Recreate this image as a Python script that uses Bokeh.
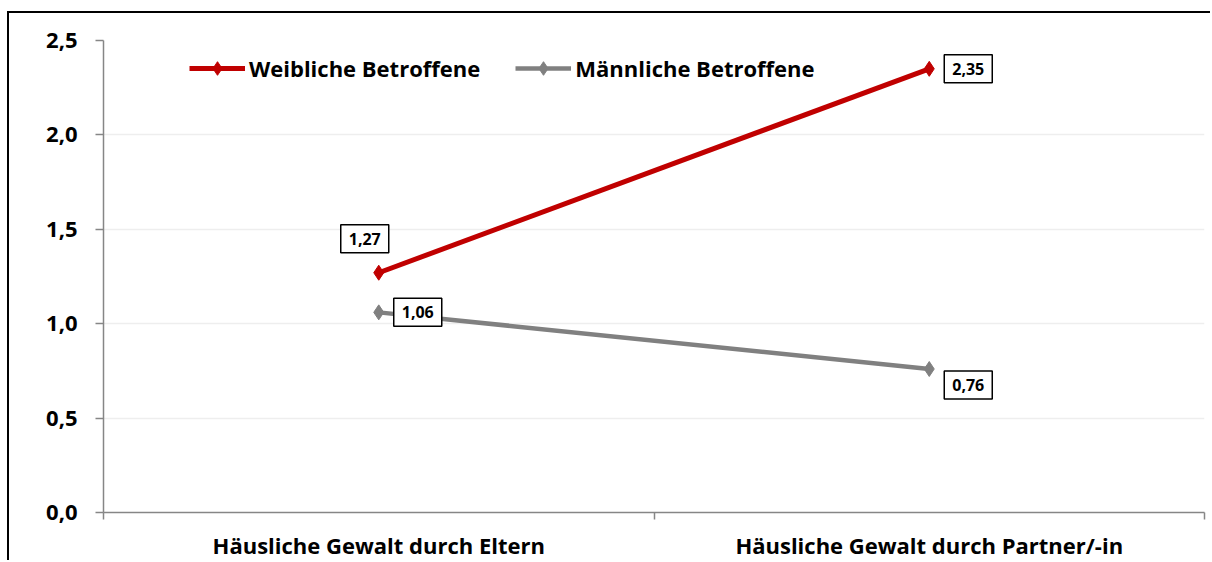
from bokeh.plotting import figure
from bokeh.models import (ColumnDataSource, FixedTicker, CustomJSTickFormatter, Label,
                          Legend, LegendItem, Range1d)
from bokeh.embed import file_html
from bokeh.resources import INLINE

categories = ["Häusliche Gewalt durch Eltern", "Häusliche Gewalt durch Partner/-in"]
weiblich = [1.27, 2.35]
maennlich = [1.06, 0.76]
series_names = ["Weibliche Betroffene", "Männliche Betroffene"]
y_ticks = [0.0, 0.5, 1.0, 1.5, 2.0, 2.5]

FONT = "Open Sans"
RED = "#C00000"
GRAY = "#808080"
AXIS = "#868686"

xpos = [i + 0.5 for i in range(len(categories))]

p = figure(width=1203, height=549, output_backend="svg", toolbar_location=None,
           x_range=Range1d(0, len(categories)), y_range=Range1d(0, 2.5),
           min_border_left=94, min_border_right=8, min_border_top=27, min_border_bottom=50)
p.margin = (11, 0, 0, 7)
p.styles = {"border-left": "2px solid black", "border-top": "2px solid black"}
p.outline_line_color = None
p.background_fill_color = "white"
p.border_fill_color = "white"

src_w = ColumnDataSource(dict(x=xpos, y=weiblich))
src_m = ColumnDataSource(dict(x=xpos, y=maennlich))

lw = p.line("x", "y", source=src_w, line_color=RED, line_width=5)
sw = p.scatter("x", "y", source=src_w, marker="diamond", size=15, fill_color=RED, line_color=RED)
lm = p.line("x", "y", source=src_m, line_color=GRAY, line_width=4.5)
sm = p.scatter("x", "y", source=src_m, marker="diamond", size=15, fill_color=GRAY, line_color=GRAY)

# axes
p.xgrid.grid_line_color = None
p.ygrid.grid_line_color = "#eeeeee"
p.ygrid.grid_line_width = 1.5
p.ygrid.ticker = FixedTicker(ticks=y_ticks)

p.yaxis.ticker = FixedTicker(ticks=y_ticks)
p.yaxis.formatter = CustomJSTickFormatter(code="return tick.toFixed(1).replace('.', ',');")
p.yaxis.axis_line_color = AXIS
p.yaxis.axis_line_width = 1.5
p.yaxis.major_tick_line_color = AXIS
p.yaxis.major_tick_line_width = 1.5
p.yaxis.major_tick_out = 8
p.yaxis.major_tick_in = 0
p.yaxis.minor_tick_line_color = None
p.yaxis.major_label_standoff = 18
p.yaxis.major_label_text_font = FONT
p.yaxis.major_label_text_font_style = "bold"
p.yaxis.major_label_text_font_size = "22px"
p.yaxis.major_label_text_color = "black"

p.xaxis.ticker = FixedTicker(ticks=xpos, minor_ticks=list(range(len(categories) + 1)))
p.xaxis.major_label_overrides = {x: c for x, c in zip(xpos, categories)}
p.xaxis.axis_line_color = AXIS
p.xaxis.axis_line_width = 1.5
p.xaxis.major_tick_line_color = None
p.xaxis.major_tick_out = 0
p.xaxis.major_tick_in = 0
p.xaxis.minor_tick_line_color = AXIS
p.xaxis.minor_tick_line_width = 1.5
p.xaxis.minor_tick_out = 7
p.xaxis.minor_tick_in = 0
p.xaxis.major_label_standoff = 10
p.xaxis.major_label_text_font = FONT
p.xaxis.major_label_text_font_style = "bold"
p.xaxis.major_label_text_font_size = "22px"
p.xaxis.major_label_text_color = "black"

# data labels
offsets_w = [(-14, 34), (39, 0)]
offsets_m = [(39, 0), (39, -16)]
for vals, offs in ((weiblich, offsets_w), (maennlich, offsets_m)):
    for x, v, (dx, dy) in zip(xpos, vals, offs):
        p.add_layout(Label(x=x, y=v, x_offset=dx, y_offset=dy,
                           text=f"{v:.2f}".replace(".", ","),
                           text_font=FONT, text_font_style="bold", text_font_size="16px",
                           text_color="black", text_align="center", text_baseline="middle",
                           background_fill_color="white", border_line_color="black",
                           border_line_width=1.5, padding=8))

legend = Legend(items=[LegendItem(label=series_names[0], renderers=[lw, sw]),
                       LegendItem(label=series_names[1], renderers=[lm, sm])],
                orientation="horizontal", location=(86, 427),
                label_text_font=FONT, label_text_font_style="bold", label_text_font_size="22px",
                label_text_color="black", glyph_width=56, glyph_height=34,
                label_standoff=4, spacing=35, padding=0, margin=0,
                border_line_color=None, background_fill_alpha=0)
p.add_layout(legend, "center")

open("out.html", "w").write(file_html(p, INLINE))
